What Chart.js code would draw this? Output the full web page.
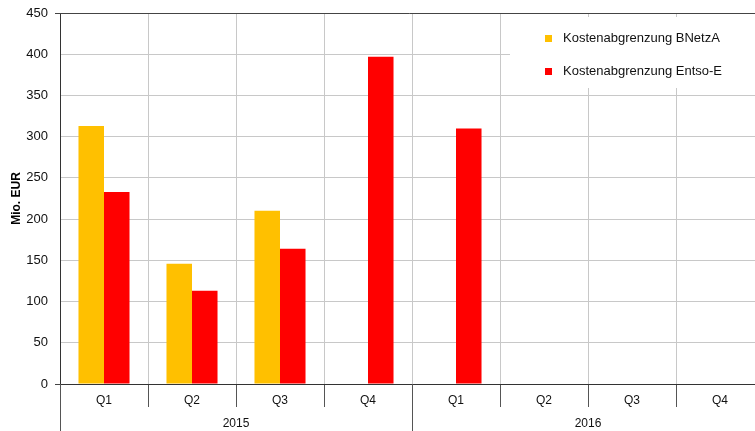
<!DOCTYPE html>
<html><head><meta charset="utf-8">
<script src="https://cdn.jsdelivr.net/npm/chart.js@4/dist/chart.umd.min.js"></script>
<style>
html,body{margin:0;padding:0;background:#fff;overflow:hidden;width:755px;height:431px;}
#wrap{width:764px;height:431px;position:relative;}
</style></head>
<body>
<div id="wrap"><canvas id="c"></canvas></div>
<script>
const quarters = ['Q1','Q2','Q3','Q4','Q1','Q2','Q3','Q4'];
const years = ['2015','2016'];
const seriesNames = ['Kostenabgrenzung BNetzA','Kostenabgrenzung Entso-E'];
const bnetza = [313,146,210,null,null,null,null,null];
const entso = [233,113,164,397,310,null,null,null];
const yTicksMax = 450;
const yTicksStep = 50;

const FONT = 'Liberation Sans, Arial, sans-serif';

const yearPlugin = {
  id:'years',
  afterDraw(chart){
    const ctx = chart.ctx, x = chart.scales.x, ca = chart.chartArea;
    const w = x.getPixelForValue(1) - x.getPixelForValue(0);
    const per = quarters.length / years.length;
    ctx.save();
    ctx.strokeStyle = '#555';
    ctx.lineWidth = 1;
    for(let i=0;i<=years.length;i++){
      const px = Math.round(x.getPixelForValue(i*per) - w/2) + 0.5;
      ctx.beginPath(); ctx.moveTo(px, ca.bottom); ctx.lineTo(px, chart.height); ctx.stroke();
    }
    ctx.fillStyle = '#111';
    ctx.font = '12px ' + FONT;
    ctx.textAlign = 'center'; ctx.textBaseline = 'middle';
    years.forEach((yr,i)=>{
      const cx = (x.getPixelForValue(i*per) + x.getPixelForValue(i*per+per-1))/2;
      ctx.fillText(yr, cx, 424);
    });
    ctx.strokeStyle = '#444';
    ctx.beginPath(); ctx.moveTo(ca.left-5, Math.round(ca.top)+0.5); ctx.lineTo(chart.width, Math.round(ca.top)+0.5); ctx.stroke();
    ctx.beginPath(); ctx.moveTo(ca.left-5, Math.round(ca.bottom)+0.5); ctx.lineTo(ca.left, Math.round(ca.bottom)+0.5); ctx.stroke();
    ctx.restore();
  }
};

const legendPlugin = {
  id:'customLegend',
  afterDatasetsDraw(chart){
    const ctx = chart.ctx, ca = chart.chartArea;
    ctx.save();
    ctx.fillStyle = '#fff';
    ctx.fillRect(510, ca.top+4, chart.width-510, 71);
    ctx.font = '13px ' + FONT;
    ctx.textBaseline = 'middle'; ctx.textAlign = 'left';
    chart.data.datasets.forEach((ds,i)=>{
      const cy = 38.5 + i*33;
      ctx.fillStyle = ds.backgroundColor;
      ctx.fillRect(545, cy-3.5, 7, 7);
      ctx.fillStyle = '#111';
      ctx.fillText(ds.label, 563, cy);
    });
    ctx.restore();
  }
};

new Chart(document.getElementById('c'), {
  type:'bar',
  data:{
    labels: quarters,
    datasets:[
      {label: seriesNames[0], data: bnetza, backgroundColor:'#FFC000', barPercentage:1, categoryPercentage:0.58},
      {label: seriesNames[1], data: entso, backgroundColor:'#FF0000', barPercentage:1, categoryPercentage:0.58}
    ]
  },
  options:{
    responsive:true, maintainAspectRatio:false, animation:false,
    layout:{padding:{top:13,left:0,right:0,bottom:0}},
    plugins:{legend:{display:false}, tooltip:{enabled:false}},
    scales:{
      x:{
        offset:true,
        grid:{offset:true, color:'#c8c8c8', tickColor:'#555', tickLength:23, lineWidth:1},
        border:{color:'#333', width:1},
        ticks:{color:'#111', font:{family:FONT, size:12}, padding:-14, maxRotation:0, autoSkip:false},
        afterFit(s){ s.height = 47; s.paddingLeft = 0; s.paddingRight = 0; }
      },
      y:{
        min:0, max:yTicksMax,
        ticks:{stepSize:yTicksStep, color:'#111', font:{family:FONT, size:13}, padding:12},
        grid:{color:'#c8c8c8', drawTicks:false},
        border:{color:'#333', width:1},
        title:{display:true, text:'Mio. EUR', color:'#000', font:{family:FONT, size:12, weight:'bold'}, padding:{top:9,bottom:0}},
        afterFit(s){ s.width = 60; s.paddingTop = 0; s.paddingBottom = 0; }
      }
    }
  },
  plugins:[legendPlugin, yearPlugin]
});
</script>
</body></html>
